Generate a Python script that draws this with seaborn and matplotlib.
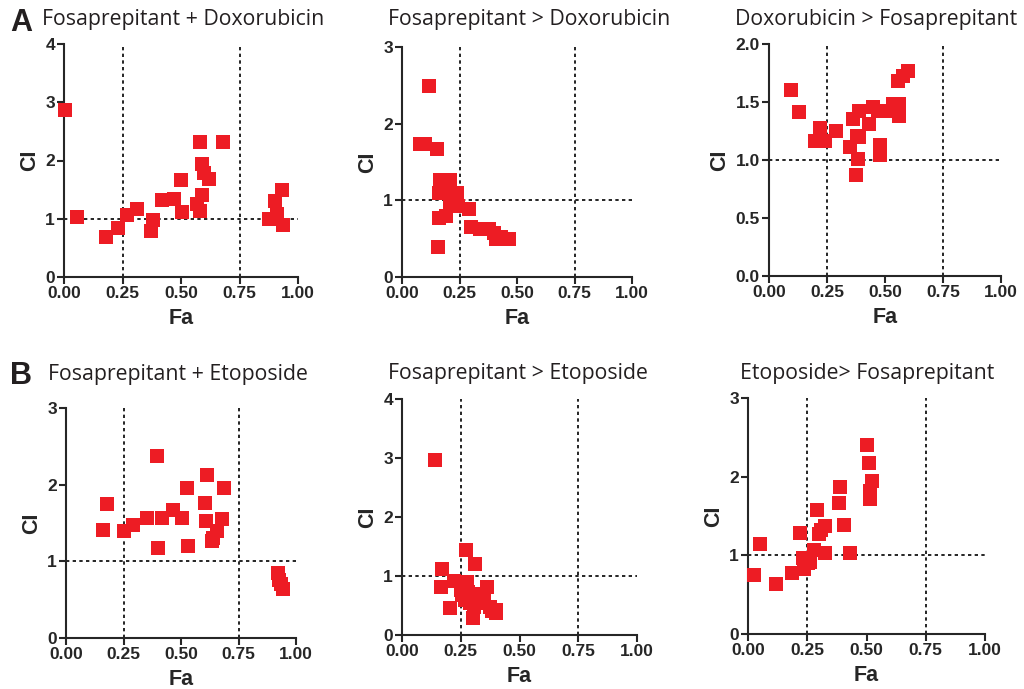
import matplotlib
matplotlib.use("Agg")
import matplotlib.pyplot as plt
import seaborn as sns
import pandas as pd

# ---- data ----
titles = ["Fosaprepitant + Doxorubicin", "Fosaprepitant > Doxorubicin", "Doxorubicin > Fosaprepitant",
          "Fosaprepitant + Etoposide", "Fosaprepitant > Etoposide", "Etoposide> Fosaprepitant"]

fa_dox_combo = [0.003, 0.056, 0.18, 0.23, 0.27, 0.31, 0.37, 0.38, 0.42, 0.47, 0.50, 0.505, 0.58, 0.68,
                0.59, 0.60, 0.62, 0.59, 0.57, 0.58, 0.876, 0.90, 0.91, 0.93, 0.936]
ci_dox_combo = [2.87, 1.03, 0.68, 0.84, 1.07, 1.17, 0.79, 0.98, 1.32, 1.34, 1.66, 1.11, 2.32, 2.31,
                1.94, 1.78, 1.69, 1.41, 1.25, 1.14, 0.99, 1.30, 1.08, 1.49, 0.90]

fa_fos_dox = [0.116, 0.08, 0.10, 0.15, 0.166, 0.207, 0.163, 0.18, 0.238, 0.21, 0.23, 0.245, 0.16, 0.19,
              0.156, 0.29, 0.30, 0.34, 0.38, 0.40, 0.41, 0.43, 0.467]
ci_fos_dox = [2.49, 1.74, 1.74, 1.67, 1.26, 1.27, 1.09, 1.10, 1.10, 0.98, 0.95, 0.92, 0.77, 0.79,
              0.39, 0.89, 0.65, 0.62, 0.62, 0.57, 0.50, 0.52, 0.50]

fa_dox_fos = [0.094, 0.13, 0.22, 0.20, 0.24, 0.29, 0.35, 0.36, 0.39, 0.38, 0.39, 0.384, 0.374, 0.43,
              0.45, 0.47, 0.48, 0.478, 0.51, 0.535, 0.56, 0.56, 0.557, 0.578, 0.597]
ci_dox_fos = [1.60, 1.41, 1.28, 1.16, 1.16, 1.25, 1.11, 1.35, 1.42, 1.21, 1.20, 1.01, 0.87, 1.31,
              1.46, 1.42, 1.13, 1.04, 1.42, 1.48, 1.48, 1.38, 1.68, 1.72, 1.77]

fa_eto_combo = [0.162, 0.18, 0.25, 0.29, 0.35, 0.397, 0.40, 0.416, 0.467, 0.504, 0.525, 0.529, 0.604,
                0.612, 0.609, 0.635, 0.64, 0.655, 0.677, 0.687, 0.92, 0.925, 0.933, 0.942]
ci_eto_combo = [1.41, 1.75, 1.39, 1.47, 1.57, 2.38, 1.17, 1.57, 1.67, 1.57, 1.96, 1.20, 1.76,
                2.12, 1.52, 1.26, 1.30, 1.40, 1.55, 1.96, 0.85, 0.76, 0.70, 0.64]

fa_fos_eto = [0.142, 0.274, 0.31, 0.17, 0.166, 0.22, 0.276, 0.206, 0.36, 0.255, 0.27, 0.30, 0.32, 0.33,
              0.35, 0.305, 0.30, 0.376, 0.383, 0.40, 0.40, 0.28, 0.25, 0.29, 0.34]
ci_fos_eto = [2.97, 1.44, 1.20, 1.12, 0.82, 0.92, 0.89, 0.46, 0.82, 0.68, 0.59, 0.68, 0.62, 0.54,
              0.62, 0.48, 0.28, 0.48, 0.40, 0.42, 0.37, 0.73, 0.76, 0.55, 0.70]

fa_eto_fos = [0.024, 0.052, 0.12, 0.187, 0.218, 0.23, 0.235, 0.254, 0.263, 0.28, 0.29, 0.30, 0.307,
              0.327, 0.327, 0.387, 0.385, 0.405, 0.432, 0.503, 0.51, 0.525, 0.514, 0.514]
ci_eto_fos = [0.75, 1.15, 0.64, 0.78, 1.28, 0.96, 0.82, 0.90, 0.92, 1.07, 1.57, 1.27, 1.32,
              1.37, 1.03, 1.87, 1.66, 1.39, 1.03, 2.40, 2.18, 1.95, 1.82, 1.72]

xs = [fa_dox_combo, fa_fos_dox, fa_dox_fos, fa_eto_combo, fa_fos_eto, fa_eto_fos]
ys = [ci_dox_combo, ci_fos_dox, ci_dox_fos, ci_eto_combo, ci_fos_eto, ci_eto_fos]
ymaxes = [4, 3, 2, 3, 4, 3]
yticks = [[0, 1, 2, 3, 4], [0, 1, 2, 3], [0, 0.5, 1.0, 1.5, 2.0], [0, 1, 2, 3], [0, 1, 2, 3, 4], [0, 1, 2, 3]]
xticks = [0, 0.25, 0.5, 0.75, 1.0]
xticklabels = ['0.00', '0.25', '0.50', '0.75', '1.00']

# ---- style ----
sns.set_style("ticks")
plt.rcParams['font.family'] = ['Liberation Sans', 'DejaVu Sans']

W, H = 1024, 689
fig = plt.figure(figsize=(W / 100, H / 100), dpi=100)

# axes boxes in pixels: left, right, top(ymax), bottom(y0)
boxes = [(64, 298, 44, 277), (402, 632, 47, 277), (769, 1001, 44, 276),
         (66, 296, 408, 638), (402, 637, 399, 635), (748, 985, 398, 634)]
title_pos = [(42, 20, 'left'), (529, 20, 'center'), (876, 20, 'center'),
             (48, 375, 'left'), (518, 373, 'center'), (867, 373, 'center')]

red = '#ED1C24'
for i in range(6):
    l, r, t, b = boxes[i]
    ax = fig.add_axes([l / W, 1 - b / H, (r - l) / W, (b - t) / H])
    df = pd.DataFrame({'Fa': xs[i], 'CI': ys[i]})
    ax.axhline(1, color='black', lw=1.2, ls=(0, (2, 2)), zorder=1)
    ax.axvline(0.25, color='black', lw=1.2, ls=(0, (2, 2)), zorder=1)
    ax.axvline(0.75, color='black', lw=1.2, ls=(0, (2, 2)), zorder=1)
    sns.scatterplot(data=df, x='Fa', y='CI', ax=ax, marker='s', s=95, color=red,
                    linewidth=0, clip_on=False, zorder=3)
    ax.set_xlim(0, 1)
    ax.set_ylim(0, ymaxes[i])
    ax.set_xticks(xticks)
    ax.set_xticklabels(xticklabels)
    ax.set_yticks(yticks[i])
    if i == 2:
        ax.set_yticklabels(['0.0', '0.5', '1.0', '1.5', '2.0'])
    else:
        ax.set_yticklabels([str(int(v)) for v in yticks[i]])
    for lab in ax.get_xticklabels() + ax.get_yticklabels():
        lab.set_fontweight('bold')
        lab.set_fontsize(12.5)
    ax.tick_params(direction='out', length=5, width=1.5, pad=1.5)
    for sp in ['left', 'bottom']:
        ax.spines[sp].set_linewidth(1.5)
    sns.despine(ax=ax)
    ax.set_xlabel('Fa', fontsize=15.5, fontweight='bold', labelpad=5)
    ax.set_ylabel('CI', fontsize=15.5, fontweight='bold', labelpad=4)
    tx, ty, ha = title_pos[i]
    fig.text(tx / W, 1 - ty / H, titles[i], ha=ha, va='center', fontsize=15.3,
             color='#231F20', family=['Open Sans', 'DejaVu Sans'])

fig.text(10 / W, 1 - 23 / H, 'A', fontsize=22, fontweight='bold', color='#231F20', va='center', ha='left')
fig.text(10 / W, 1 - 376 / H, 'B', fontsize=22, fontweight='bold', color='#231F20', va='center', ha='left')

fig.savefig('out.png', dpi=100)
